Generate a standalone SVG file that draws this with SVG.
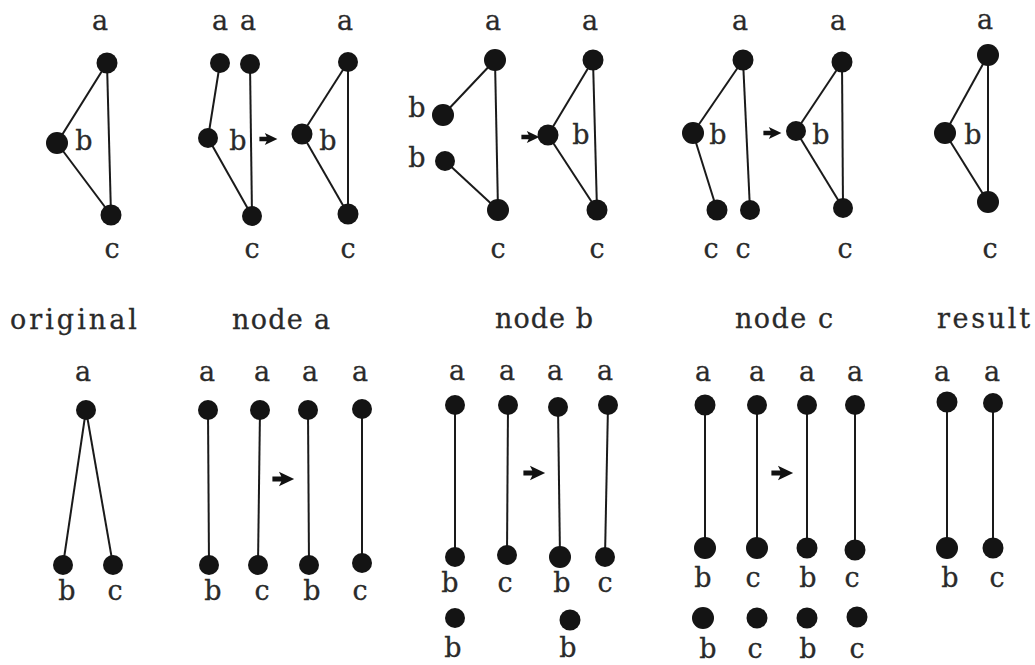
<svg xmlns="http://www.w3.org/2000/svg" xmlns:xlink="http://www.w3.org/1999/xlink" width="1035" height="665" viewBox="0 0 1035 665">
<style>
.n{fill:#141414}
.e{stroke:#1a1a1a;stroke-width:2;fill:none}
.t{font-family:"DejaVu Serif","Liberation Serif",serif;font-size:27px;fill:#2a2a2a;stroke:#2a2a2a;stroke-width:0.3;text-anchor:middle}
.h{font-family:"DejaVu Serif","Liberation Serif",serif;font-size:27px;fill:#2a2a2a;stroke:#2a2a2a;stroke-width:0.3}
</style>
<defs>
<path id="arr" d="M-8,-1.8 H-1 V1.8 H-8 Z M-3.5,-5 L7,0 L-3.5,5 L-1,0 Z" fill="#111"/>
</defs>
<rect width="1035" height="665" fill="#fff"/>
<g id="connectors">
<line class="e" x1="107" y1="63" x2="57" y2="143"/><line class="e" x1="57" y1="143" x2="111" y2="215"/><line class="e" x1="107" y1="63" x2="111" y2="215"/>
<line class="e" x1="220" y1="63" x2="208" y2="138"/><line class="e" x1="208" y1="138" x2="252" y2="216"/><line class="e" x1="250" y1="64" x2="252" y2="216"/>
<line class="e" x1="348" y1="62" x2="302" y2="134"/><line class="e" x1="302" y1="134" x2="348" y2="214"/><line class="e" x1="348" y1="62" x2="348" y2="214"/>
<line class="e" x1="495" y1="60" x2="443" y2="115"/><line class="e" x1="445" y1="161" x2="498" y2="210"/><line class="e" x1="495" y1="60" x2="498" y2="210"/>
<line class="e" x1="593" y1="60" x2="548" y2="135"/><line class="e" x1="548" y1="135" x2="597" y2="210"/><line class="e" x1="593" y1="60" x2="597" y2="210"/>
<line class="e" x1="743" y1="60" x2="693" y2="133"/><line class="e" x1="693" y1="133" x2="717" y2="210"/><line class="e" x1="743" y1="60" x2="750" y2="210"/>
<line class="e" x1="842" y1="62" x2="796" y2="131"/><line class="e" x1="796" y1="131" x2="843" y2="208"/><line class="e" x1="842" y1="62" x2="843" y2="208"/>
<line class="e" x1="988" y1="55" x2="945" y2="133"/><line class="e" x1="945" y1="133" x2="988" y2="202"/><line class="e" x1="988" y1="55" x2="988" y2="202"/>
<use xlink:href="#arr" transform="translate(269,139) scale(1.2)"/>
<use xlink:href="#arr" transform="translate(531,137) scale(1.2)"/>
<use xlink:href="#arr" transform="translate(773,133) scale(1.2)"/>
<line class="e" x1="86" y1="410" x2="63" y2="565"/><line class="e" x1="86" y1="410" x2="113" y2="565"/>
<line class="e" x1="208" y1="410" x2="209" y2="565"/><line class="e" x1="260" y1="410" x2="258" y2="565"/><line class="e" x1="308" y1="410" x2="309" y2="565"/><line class="e" x1="362" y1="409" x2="362" y2="563"/>
<line class="e" x1="455" y1="405" x2="455" y2="557"/><line class="e" x1="508" y1="405" x2="507" y2="555"/><line class="e" x1="558" y1="407" x2="560" y2="557"/><line class="e" x1="608" y1="405" x2="605" y2="557"/>
<line class="e" x1="705" y1="405" x2="705" y2="548"/><line class="e" x1="757" y1="405" x2="757" y2="548"/><line class="e" x1="807" y1="405" x2="807" y2="548"/><line class="e" x1="855" y1="405" x2="855" y2="550"/>
<line class="e" x1="947" y1="402" x2="947" y2="548"/><line class="e" x1="993" y1="403" x2="993" y2="548"/>
<use xlink:href="#arr" transform="translate(284,479) scale(1.45)"/>
<use xlink:href="#arr" transform="translate(535,473) scale(1.45)"/>
<use xlink:href="#arr" transform="translate(783,473) scale(1.45)"/>
</g>
<g id="top-original">
<g id="t1a"><circle class="n" cx="107" cy="63" r="10.5"/></g>
<g id="t1b"><circle class="n" cx="57" cy="143" r="11"/></g>
<g id="t1c"><circle class="n" cx="111" cy="215" r="10.5"/></g>
</g>
<g id="top-nodea">
<g id="t2a1"><circle class="n" cx="220" cy="63" r="10"/></g>
<g id="t2a2"><circle class="n" cx="250" cy="64" r="10"/></g>
<g id="t2b"><circle class="n" cx="208" cy="138" r="10"/></g>
<g id="t2c"><circle class="n" cx="252" cy="216" r="10"/></g>
<g id="t3a"><circle class="n" cx="348" cy="62" r="10"/></g>
<g id="t3b"><circle class="n" cx="302" cy="134" r="10.5"/></g>
<g id="t3c"><circle class="n" cx="348" cy="214" r="10.5"/></g>
</g>
<g id="top-nodeb">
<g id="t4a"><circle class="n" cx="495" cy="60" r="11"/></g>
<g id="t4b1"><circle class="n" cx="443" cy="115" r="11"/></g>
<g id="t4b2"><circle class="n" cx="445" cy="161" r="10"/></g>
<g id="t4c"><circle class="n" cx="498" cy="210" r="11"/></g>
<g id="t5a"><circle class="n" cx="593" cy="60" r="10.5"/></g>
<g id="t5b"><circle class="n" cx="548" cy="135" r="10.5"/></g>
<g id="t5c"><circle class="n" cx="597" cy="210" r="10.5"/></g>
</g>
<g id="top-nodec">
<g id="t6a"><circle class="n" cx="743" cy="60" r="10.5"/></g>
<g id="t6b"><circle class="n" cx="693" cy="133" r="11"/></g>
<g id="t6c1"><circle class="n" cx="717" cy="210" r="10.5"/></g>
<g id="t6c2"><circle class="n" cx="750" cy="210" r="10"/></g>
<g id="t7a"><circle class="n" cx="842" cy="62" r="10.5"/></g>
<g id="t7b"><circle class="n" cx="796" cy="131" r="10"/></g>
<g id="t7c"><circle class="n" cx="843" cy="208" r="10"/></g>
</g>
<g id="top-result">
<g id="t8a"><circle class="n" cx="988" cy="55" r="11"/></g>
<g id="t8b"><circle class="n" cx="945" cy="133" r="11"/></g>
<g id="t8c"><circle class="n" cx="988" cy="202" r="11"/></g>
</g>
<g id="bottom-original">
<g id="b1a"><circle class="n" cx="86" cy="410" r="10"/></g>
<g id="b1b"><circle class="n" cx="63" cy="565" r="10"/></g>
<g id="b1c"><circle class="n" cx="113" cy="565" r="10"/></g>
</g>
<g id="bottom-nodea">
<g id="b2a1"><circle class="n" cx="208" cy="410" r="10"/></g>
<g id="b2a2"><circle class="n" cx="260" cy="410" r="10"/></g>
<g id="b2a3"><circle class="n" cx="308" cy="410" r="10"/></g>
<g id="b2a4"><circle class="n" cx="362" cy="409" r="10"/></g>
<g id="b2b1"><circle class="n" cx="209" cy="565" r="10"/></g>
<g id="b2c1"><circle class="n" cx="258" cy="565" r="10"/></g>
<g id="b2b2"><circle class="n" cx="309" cy="565" r="10"/></g>
<g id="b2c2"><circle class="n" cx="362" cy="563" r="10"/></g>
</g>
<g id="bottom-nodeb">
<g id="b3a1"><circle class="n" cx="455" cy="405" r="10"/></g>
<g id="b3a2"><circle class="n" cx="508" cy="405" r="10"/></g>
<g id="b3a3"><circle class="n" cx="558" cy="407" r="10"/></g>
<g id="b3a4"><circle class="n" cx="608" cy="405" r="10"/></g>
<g id="b3b1"><circle class="n" cx="455" cy="557" r="10"/></g>
<g id="b3c1"><circle class="n" cx="507" cy="555" r="10"/></g>
<g id="b3b2"><circle class="n" cx="560" cy="557" r="11"/></g>
<g id="b3c2"><circle class="n" cx="605" cy="557" r="10"/></g>
<g id="b3x1"><circle class="n" cx="455" cy="618" r="10"/></g>
<g id="b3x2"><circle class="n" cx="570" cy="620" r="10.5"/></g>
</g>
<g id="bottom-nodec">
<g id="b4a1"><circle class="n" cx="705" cy="405" r="10.5"/></g>
<g id="b4a2"><circle class="n" cx="757" cy="405" r="10"/></g>
<g id="b4a3"><circle class="n" cx="807" cy="405" r="10"/></g>
<g id="b4a4"><circle class="n" cx="855" cy="405" r="10"/></g>
<g id="b4b1"><circle class="n" cx="705" cy="548" r="11"/></g>
<g id="b4c1"><circle class="n" cx="757" cy="548" r="11"/></g>
<g id="b4b2"><circle class="n" cx="807" cy="548" r="10.5"/></g>
<g id="b4c2"><circle class="n" cx="855" cy="550" r="10.5"/></g>
<g id="b4x1"><circle class="n" cx="703" cy="618" r="11"/></g>
<g id="b4x2"><circle class="n" cx="757" cy="618" r="10.5"/></g>
<g id="b4x3"><circle class="n" cx="807" cy="618" r="10.5"/></g>
<g id="b4x4"><circle class="n" cx="857" cy="617" r="10.5"/></g>
</g>
<g id="bottom-result">
<g id="b5a1"><circle class="n" cx="947" cy="402" r="10.5"/></g>
<g id="b5a2"><circle class="n" cx="993" cy="403" r="10"/></g>
<g id="b5b"><circle class="n" cx="947" cy="548" r="11"/></g>
<g id="b5c"><circle class="n" cx="993" cy="548" r="10.5"/></g>
</g>
<g id="labels">
<text class="t" x="100" y="30">a</text><text class="t" x="84" y="150">b</text><text class="t" x="112" y="258">c</text>
<text class="t" x="220" y="30">a</text><text class="t" x="248" y="30">a</text><text class="t" x="238" y="150">b</text><text class="t" x="252" y="258">c</text>
<text class="t" x="345" y="30">a</text><text class="t" x="328" y="150">b</text><text class="t" x="348" y="258">c</text>
<text class="t" x="493" y="30">a</text><text class="t" x="417" y="117">b</text><text class="t" x="417" y="167">b</text><text class="t" x="498" y="258">c</text>
<text class="t" x="590" y="30">a</text><text class="t" x="581" y="144">b</text><text class="t" x="597" y="258">c</text>
<text class="t" x="740" y="30">a</text><text class="t" x="718" y="144">b</text><text class="t" x="711" y="258">c</text><text class="t" x="743" y="258">c</text>
<text class="t" x="838" y="30">a</text><text class="t" x="821" y="144">b</text><text class="t" x="845" y="258">c</text>
<text class="t" x="985" y="29">a</text><text class="t" x="973" y="144">b</text><text class="t" x="990" y="258">c</text>
<text class="h" x="10" y="329" textLength="127" lengthAdjust="spacing">original</text>
<text class="h" x="232" y="329" textLength="98" lengthAdjust="spacing">node a</text>
<text class="h" x="495" y="328" textLength="98" lengthAdjust="spacing">node b</text>
<text class="h" x="735" y="328" textLength="98" lengthAdjust="spacing">node c</text>
<text class="h" x="937" y="328" textLength="93" lengthAdjust="spacing">result</text>
<text class="t" x="83" y="381">a</text><text class="t" x="67" y="600">b</text><text class="t" x="115" y="600">c</text>
<text class="t" x="207" y="381">a</text><text class="t" x="262" y="381">a</text><text class="t" x="310" y="381">a</text><text class="t" x="360" y="381">a</text>
<text class="t" x="213" y="600">b</text><text class="t" x="262" y="600">c</text><text class="t" x="312" y="600">b</text><text class="t" x="360" y="600">c</text>
<text class="t" x="457" y="380">a</text><text class="t" x="507" y="380">a</text><text class="t" x="555" y="380">a</text><text class="t" x="605" y="380">a</text>
<text class="t" x="450" y="592">b</text><text class="t" x="505" y="592">c</text><text class="t" x="562" y="592">b</text><text class="t" x="605" y="592">c</text>
<text class="t" x="453" y="657">b</text><text class="t" x="568" y="657">b</text>
<text class="t" x="703" y="381">a</text><text class="t" x="757" y="381">a</text><text class="t" x="807" y="381">a</text><text class="t" x="855" y="381">a</text>
<text class="t" x="703" y="587">b</text><text class="t" x="753" y="587">c</text><text class="t" x="808" y="587">b</text><text class="t" x="852" y="587">c</text>
<text class="t" x="708" y="658">b</text><text class="t" x="755" y="658">c</text><text class="t" x="808" y="658">b</text><text class="t" x="857" y="658">c</text>
<text class="t" x="942" y="381">a</text><text class="t" x="992" y="381">a</text>
<text class="t" x="950" y="587">b</text><text class="t" x="997" y="587">c</text>
</g>
</svg>
